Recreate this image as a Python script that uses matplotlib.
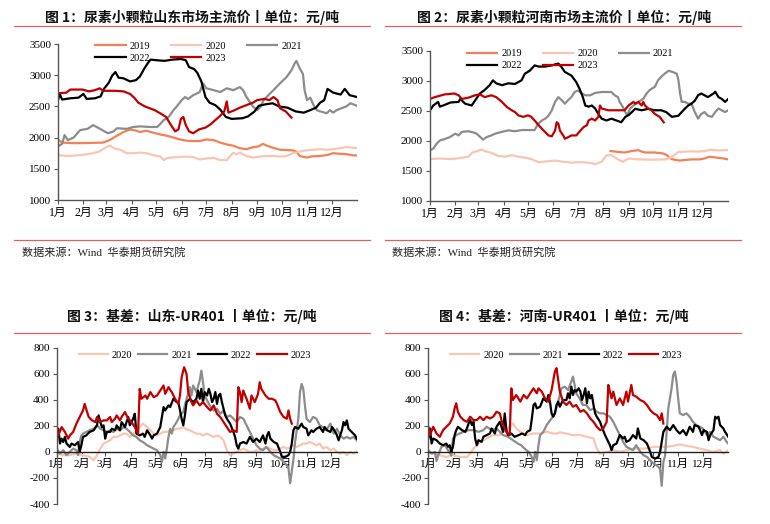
import matplotlib
matplotlib.use("Agg")
import matplotlib.pyplot as plt
from matplotlib.lines import Line2D

SERIF = ['Liberation Serif', 'Noto Sans CJK SC']
CJK = ['Noto Sans CJK SC', 'DejaVu Sans']
plt.rcParams['font.family'] = SERIF
plt.rcParams['axes.unicode_minus'] = False

# ---------------- data (day of year, value) ----------------
month_days = [0, 31, 59, 90, 120, 151, 181, 212, 243, 273, 304, 334]
month_labels = ['1月', '2月', '3月', '4月', '5月', '6月', '7月', '8月', '9月', '10月', '11月', '12月']
price_ticks = [1000, 1500, 2000, 2500, 3000, 3500]
basis_ticks = [-400, -200, 0, 200, 400, 600, 800]

years_price = ['2019', '2020', '2021', '2022', '2023']
years_basis = ['2020', '2021', '2022', '2023']
colors = {'2019': '#F08158', '2020': '#F8C6B2', '2021': '#8C8C8C', '2022': '#000000', '2023': '#C00000'}

# Panel 1: Shandong price
sd_2019 = [(0,1970),(5,1920),(20,1910),(40,1915),(55,1920),(63,1960),(72,2030),(80,2090),(88,2130),(96,2110),
           (100,2090),(108,2110),(116,2080),(125,2050),(133,2030),(141,2000),(149,1970),(157,1950),(165,1945),
           (173,1945),(181,1970),(190,1960),(198,1920),(206,1890),(214,1870),(222,1830),(230,1815),(238,1845),
           (245,1860),(250,1900),(255,1870),(263,1835),(271,1805),(280,1800),(287,1795),(291,1775),(295,1705),
           (300,1690),(304,1680),(310,1700),(320,1705),(328,1720),(336,1750),(344,1740),(352,1735),(360,1715),(365,1715)]
sd_2020 = [(0,1720),(11,1705),(28,1720),(43,1750),(51,1780),(59,1850),(64,1870),(68,1830),(76,1805),(84,1750),
           (92,1750),(100,1760),(108,1750),(116,1720),(125,1695),(129,1640),(133,1670),(141,1685),(149,1690),
           (157,1695),(165,1690),(173,1650),(181,1665),(190,1675),(198,1640),(206,1640),(210,1700),(214,1760),
           (218,1730),(222,1760),(230,1705),(238,1680),(246,1695),(255,1705),(263,1705),(271,1695),(279,1705),
           (287,1750),(295,1775),(303,1795),(312,1805),(320,1815),(328,1805),(336,1815),(344,1830),(352,1850),
           (360,1835),(365,1835)]
sd_2021 = [(0,1860),(5,1900),(8,2040),(12,1960),(19,2000),(27,2120),(36,2140),(43,2200),(50,2150),(61,2070),
           (68,2100),(72,2150),(84,2140),(92,2170),(100,2180),(112,2170),(121,2170),(125,2220),(129,2280),
           (135,2330),(141,2440),(145,2500),(151,2600),(155,2650),(159,2620),(165,2680),(173,2730),(177,2870),
           (181,2790),(190,2760),(198,2730),(206,2790),(214,2760),(222,2810),(226,2760),(230,2650),(234,2575),
           (238,2500),(243,2440),(247,2490),(251,2600),(259,2710),(263,2760),(271,2870),(279,2970),(285,3080),
           (289,3190),(291,3230),(295,3110),(299,3020),(301,2760),(304,2600),(308,2640),(312,2520),(316,2440),
           (320,2420),(328,2390),(332,2440),(336,2400),(340,2440),(344,2460),(352,2500),(357,2550),(361,2530),(365,2510)]
sd_2022 = [(0,2600),(2,2700),(5,2610),(15,2630),(25,2640),(31,2700),(35,2620),(45,2630),(52,2660),(56,2780),
           (62,2880),(66,2990),(70,3050),(74,2960),(80,2950),(88,2900),(95,2920),(100,2980),(105,3100),(110,3200),
           (113,3250),(120,3240),(130,3230),(140,3250),(150,3260),(156,3240),(160,3130),(166,3100),(170,3040),
           (175,2900),(180,2650),(185,2560),(192,2520),(198,2450),(205,2330),(212,2300),(225,2310),(232,2340),
           (240,2420),(245,2510),(252,2530),(262,2550),(270,2500),(280,2480),(290,2420),(300,2400),(308,2440),
           (315,2480),(320,2560),(325,2600),(329,2780),(336,2720),(345,2690),(350,2780),(356,2680),(365,2650)]
sd_2023 = [(0,2710),(10,2720),(15,2770),(30,2770),(38,2740),(45,2760),(51,2790),(55,2750),(70,2750),(80,2740),
           (88,2700),(93,2640),(98,2560),(106,2500),(112,2470),(118,2440),(126,2380),(132,2330),(137,2220),
           (143,2100),(147,2130),(150,2300),(153,2330),(156,2200),(160,2100),(165,2070),(172,2130),(180,2160),
           (186,2210),(192,2280),(198,2350),(203,2420),(206,2580),(208,2400),(214,2430),(222,2480),(230,2520),
           (238,2560),(243,2600),(252,2620),(258,2600),(263,2650),(268,2600),(271,2470),(278,2420),(285,2320)]

# Panel 2: Henan price
hn_2019 = [(221,1830),(230,1815),(238,1805),(247,1830),(255,1845),(259,1820),(263,1805),(275,1805),(285,1790),
           (290,1760),(294,1705),(300,1680),(306,1670),(312,1680),(320,1690),(330,1690),(336,1705),(342,1735),
           (350,1720),(357,1710),(365,1690)]
hn_2020 = [(0,1695),(10,1705),(27,1695),(38,1715),(47,1735),(52,1805),(58,1830),(63,1855),(67,1830),(75,1800),
           (84,1745),(92,1735),(100,1760),(108,1735),(116,1720),(125,1690),(133,1640),(141,1655),(153,1670),
           (163,1650),(173,1635),(182,1645),(190,1640),(198,1625),(202,1610),(210,1650),(216,1760),(222,1760),
           (230,1690),(236,1650),(243,1705),(255,1690),(271,1685),(288,1690),(296,1730),(304,1815),(312,1820),
           (320,1825),(328,1820),(336,1830),(344,1850),(352,1840),(365,1845)]
hn_2021 = [(0,1840),(4,1870),(8,1950),(12,2005),(18,2030),(24,2060),(31,2120),(35,2090),(39,2150),(47,2160),
           (53,2140),(57,2120),(61,2070),(65,2020),(69,2060),(75,2090),(80,2120),(88,2150),(96,2175),(104,2160),
           (112,2180),(120,2180),(128,2180),(132,2280),(137,2340),(141,2370),(145,2420),(149,2510),(153,2650),
           (157,2730),(161,2680),(165,2620),(169,2680),(173,2730),(177,2815),(181,2840),(186,2790),(190,2760),
           (196,2760),(202,2800),(210,2815),(216,2815),(222,2815),(226,2760),(230,2730),(232,2650),(236,2565),
           (239,2480),(241,2425),(245,2540),(249,2590),(255,2650),(261,2700),(265,2790),(269,2850),(275,2900),
           (279,3010),(283,3070),(287,3120),(292,3170),(297,3150),(302,3120),(304,3010),(306,2790),(308,2650),
           (312,2650),(316,2620),(320,2620),(324,2480),(328,2370),(332,2450),(336,2480),(340,2420),(345,2400),
           (349,2480),(353,2540),(357,2510),(361,2480),(365,2510)]
hn_2022 = [(0,2510),(4,2590),(10,2650),(12,2570),(18,2600),(25,2640),(35,2650),(37,2700),(43,2620),(51,2590),
           (55,2670),(61,2790),(67,2850),(73,2930),(77,3010),(81,2960),(88,2930),(96,2960),(104,2950),(112,3010),
           (116,3120),(122,3170),(128,3260),(133,3240),(141,3240),(149,3260),(157,3290),(161,3230),(165,3150),
           (173,3090),(179,2980),(183,2870),(187,2730),(190,2590),(194,2570),(198,2590),(202,2540),(206,2450),
           (210,2370),(216,2340),(222,2370),(228,2340),(234,2310),(239,2400),(243,2430),(247,2480),(251,2535),
           (259,2510),(267,2535),(275,2510),(283,2510),(289,2480),(296,2400),(304,2420),(308,2480),(312,2540),
           (316,2590),(320,2620),(324,2670),(328,2760),(332,2790),(336,2760),(340,2730),(347,2790),(349,2820),
           (353,2730),(357,2700),(361,2650),(365,2700)]
hn_2023 = [(0,2700),(6,2730),(18,2775),(30,2790),(35,2760),(39,2700),(47,2720),(55,2760),(61,2775),(67,2730),
           (75,2760),(81,2730),(88,2650),(94,2565),(100,2510),(104,2480),(108,2425),(114,2400),(120,2425),
           (124,2400),(128,2340),(133,2260),(137,2200),(141,2145),(145,2090),(149,2075),(153,2170),(155,2310),
           (157,2290),(159,2170),(163,2090),(165,2035),(169,2060),(173,2090),(179,2090),(184,2170),(188,2230),
           (192,2260),(194,2340),(198,2370),(202,2340),(206,2400),(208,2590),(210,2540),(218,2510),(230,2510),
           (238,2510),(243,2590),(249,2650),(251,2620),(255,2650),(259,2590),(261,2650),(263,2590),(267,2540),
           (271,2510),(275,2450),(281,2400),(286,2310)]

# Panel 3: basis Shandong - UR401
sdb_2020 = [(0,-13),(8,-25),(16,-25),(24,-13),(32,-25),(40,-38),(45,-64),(49,-25),(53,25),(57,64),(61,76),(65,89),
            (69,115),(73,115),(77,127),(81,140),(85,140),(89,115),(93,140),(97,153),(101,191),(105,217),(110,191),
            (114,166),(118,140),(122,127),(126,140),(130,153),(134,153),(138,166),(142,166),(146,178),(150,178),
            (154,191),(158,173),(162,166),(166,153),(170,140),(174,140),(178,127),(183,140),(187,127),(191,115),
            (195,127),(199,115),(203,89),(207,13),(211,-25),(215,-13),(219,0),(223,13),(227,25),(231,13),(235,0),
            (239,0),(243,13),(247,0),(251,25),(255,38),(260,25),(264,13),(268,13),(272,25),(276,38),(280,25),
            (284,38),(288,51),(292,38),(296,51),(300,64),(304,64),(308,76),(312,64),(316,51),(320,64),(324,25),
            (328,38),(333,13),(337,25),(341,0),(345,-13),(349,0),(353,-25),(357,0),(361,-13),(365,0)]
sdb_2021 = [(0,25),(4,-13),(8,13),(12,-25),(16,0),(20,25),(24,13),(26,-25),(28,76),(30,127),(32,140),(36,153),
            (40,166),(45,178),(49,204),(53,178),(57,166),(61,153),(65,166),(69,153),(73,178),(77,166),(81,191),
            (85,178),(89,153),(93,127),(97,115),(101,89),(105,76),(110,51),(114,38),(118,25),(122,13),(126,-25),
            (128,-76),(130,0),(132,-51),(134,25),(136,115),(138,178),(140,140),(142,191),(146,229),(150,280),
            (154,306),(158,408),(162,497),(164,433),(166,510),(170,459),(174,548),(176,624),(178,535),(180,433),
            (182,408),(186,357),(191,318),(195,331),(199,293),(203,318),(207,268),(211,280),(215,255),(219,229),
            (223,268),(227,255),(231,204),(235,153),(239,102),(243,51),(247,25),(251,13),(255,38),(260,0),(264,-25),
            (268,-38),(272,-51),(276,-76),(280,-102),(282,-127),(284,-240),(286,-150),(288,-60),(290,76),(294,255),
            (296,459),(298,522),(300,484),(302,357),(304,255),(308,229),(312,268),(316,255),(320,204),(324,191),
            (328,166),(333,217),(337,140),(341,178),(345,127),(349,102),(353,115),(357,102),(361,115),(365,89)]
sdb_2022 = [(0,127),(2,178),(4,64),(6,102),(8,76),(10,115),(12,64),(16,38),(18,64),(22,51),(26,76),(28,0),(30,51),
            (32,115),(36,127),(40,153),(45,166),(49,204),(51,280),(53,229),(55,191),(57,204),(59,102),(61,153),
            (65,153),(67,178),(71,166),(73,204),(77,166),(79,229),(83,191),(85,229),(87,268),(89,204),(93,255),
            (95,293),(97,140),(101,127),(105,140),(107,115),(110,166),(114,127),(116,102),(118,127),(122,140),
            (126,191),(128,268),(130,344),(132,318),(136,357),(138,344),(142,408),(146,382),(148,382),(150,318),
            (152,255),(154,204),(156,280),(158,382),(162,408),(166,382),(170,408),(172,471),(174,408),(176,484),
            (178,382),(180,459),(183,433),(185,484),(187,446),(189,382),(191,408),(193,459),(195,369),(197,433),
            (199,446),(201,382),(203,331),(205,280),(207,255),(211,217),(215,153),(217,115),(219,51),(221,25),
            (223,64),(227,76),(231,64),(235,115),(239,76),(243,102),(247,76),(251,127),(254,64),(256,127),(258,153),
            (260,102),(264,76),(268,64),(272,0),(274,-38),(278,-38),(282,-25),(284,0),(286,64),(288,166),(290,191),
            (294,178),(298,217),(300,191),(304,178),(306,127),(310,166),(312,153),(316,178),(320,191),(324,153),
            (326,191),(329,166),(333,153),(335,191),(339,153),(341,127),(343,89),(345,127),(347,166),(349,229),
            (351,204),(353,242),(355,178),(359,153),(361,140),(363,127),(365,102)]
sdb_2023 = [(0,191),(2,127),(6,191),(10,153),(14,102),(16,127),(20,153),(24,217),(28,268),(32,318),(34,369),
            (37,306),(39,268),(43,242),(47,229),(49,268),(53,229),(57,242),(61,242),(65,268),(67,229),(71,255),
            (73,280),(77,242),(79,268),(83,306),(87,255),(91,229),(95,191),(99,140),(101,484),(103,408),(108,433),
            (110,408),(114,459),(118,420),(122,433),(126,471),(130,510),(132,446),(136,497),(140,459),(144,408),
            (148,369),(150,433),(152,573),(155,650),(158,599),(160,459),(164,382),(166,357),(170,395),(174,357),
            (178,382),(183,344),(187,318),(191,357),(195,293),(199,268),(203,229),(207,191),(211,153),(215,166),
            (219,153),(221,497),(223,459),(225,382),(227,471),(231,408),(235,331),(237,433),(241,382),(245,446),
            (247,535),(249,484),(254,433),(258,408),(262,408),(266,395),(268,369),(272,306),(276,268),(280,255),
            (282,318),(284,255),(286,217)]

# Panel 4: basis Henan - UR401
hnb_2020 = [(0,0),(6,-13),(14,-26),(22,-39),(30,-26),(39,-39),(47,-39),(51,-13),(55,26),(59,51),(63,77),(71,103),
            (79,129),(87,129),(91,154),(95,167),(99,193),(103,218),(107,180),(112,154),(120,129),(128,141),
            (136,141),(144,154),(152,141),(156,141),(160,150),(168,141),(176,129),(185,129),(193,116),(201,103),
            (205,26),(209,-13),(217,0),(225,13),(233,0),(241,13),(249,26),(258,26),(266,26),(274,39),(282,39),
            (290,39),(298,46),(306,57),(314,46),(322,39),(330,26),(339,13),(347,0),(355,13),(359,-13),(365,13)]
hnb_2021 = [(0,13),(4,-13),(8,0),(10,-70),(12,-26),(16,39),(20,51),(24,13),(28,-26),(30,103),(34,129),(38,141),
            (43,154),(49,167),(55,167),(61,154),(67,167),(71,193),(77,167),(83,180),(87,154),(91,129),(97,116),
            (103,90),(109,64),(113,51),(117,26),(122,0),(126,-39),(128,-77),(130,0),(132,-64),(134,51),(136,129),
            (140,154),(144,206),(150,257),(154,296),(158,386),(162,488),(166,501),(170,475),(174,540),(176,578),
            (178,514),(180,450),(184,411),(188,360),(192,360),(197,321),(201,334),(205,308),(209,296),(213,296),
            (217,283),(221,270),(225,231),(229,180),(233,129),(237,77),(241,39),(245,26),(249,13),(253,51),(258,0),
            (262,-26),(266,-39),(270,-64),(274,-90),(278,-103),(282,-129),(284,-260),(286,-77),(288,-30),(290,154),
            (292,334),(296,488),(298,591),(300,617),(302,540),(304,411),(306,296),(310,283),(314,296),(318,270),
            (322,231),(326,206),(330,193),(334,180),(339,129),(343,154),(347,116),(351,103),(355,90),(359,116),
            (363,77),(365,64)]
hnb_2022 = [(0,103),(2,180),(4,64),(6,103),(10,90),(14,64),(18,51),(22,64),(24,39),(26,51),(28,0),(30,39),(32,129),
            (34,167),(36,193),(41,167),(45,154),(47,180),(49,218),(51,244),(53,206),(55,231),(57,103),(59,51),
            (61,90),(65,77),(67,116),(71,129),(75,141),(77,180),(81,141),(83,193),(87,231),(89,193),(91,154),
            (93,296),(95,167),(97,129),(101,141),(105,116),(110,129),(114,141),(118,129),(120,154),(124,167),
            (126,257),(128,360),(130,373),(132,334),(136,347),(140,411),(144,386),(146,437),(148,386),(150,296),
            (152,270),(154,296),(156,360),(158,386),(160,347),(164,398),(168,398),(170,450),(172,411),(174,501),
            (176,437),(178,475),(180,463),(183,488),(185,463),(187,398),(189,437),(191,488),(193,373),(195,463),
            (197,411),(199,437),(201,360),(203,296),(205,270),(209,231),(211,193),(215,129),(217,103),(221,51),
            (223,13),(225,51),(229,64),(233,129),(237,103),(239,116),(241,77),(245,90),(249,129),(253,103),
            (255,180),(258,103),(262,90),(266,64),(270,0),(272,-39),(276,-51),(280,-39),(282,0),(284,77),(286,154),
            (290,193),(294,167),(298,206),(302,167),(306,141),(310,167),(314,129),(318,193),(322,154),(324,206),
            (329,193),(333,129),(335,167),(339,154),(341,90),(343,129),(347,167),(349,270),(351,257),(353,270),
            (355,206),(359,180),(361,154),(365,116)]
hnb_2023 = [(0,193),(2,129),(6,193),(10,141),(14,116),(18,167),(22,193),(26,218),(30,270),(32,334),(34,373),
            (36,308),(39,270),(43,244),(47,231),(51,270),(55,244),(59,244),(63,270),(67,244),(71,270),(75,257),
            (79,270),(83,308),(87,296),(89,244),(91,206),(95,154),(99,129),(101,488),(103,398),(107,437),(112,386),
            (116,437),(120,411),(124,450),(128,488),(132,450),(134,488),(138,463),(142,411),(146,386),(150,475),
            (154,617),(156,643),(158,553),(160,463),(164,386),(168,360),(172,386),(176,347),(180,360),(185,308),
            (189,321),(193,296),(197,257),(201,231),(205,193),(209,167),(213,180),(217,231),(219,514),(221,463),
            (223,411),(225,463),(229,360),(233,411),(237,360),(241,463),(243,386),(247,514),(249,437),(253,424),
            (258,398),(262,386),(266,360),(270,321),(274,296),(278,283),(282,244),(284,296),(286,218)]

titles = ['图 1：尿素小颗粒山东市场主流价丨单位：元/吨',
          '图 2：尿素小颗粒河南市场主流价丨单位：元/吨',
          '图 3：基差：山东-UR401 丨单位：元/吨',
          '图 4：基差：河南-UR401 丨单位：元/吨']
source_text = '数据来源：Wind  华泰期货研究院'

# ---------------- figure ----------------
W, H = 770, 524
fig = plt.figure(figsize=(W / 100, H / 100), dpi=100)
fig.patch.set_facecolor('white')


def fx(px):
    return px / W


def fy(py):
    return 1 - py / H


def hline(x0, x1, y, color='#E06060', lw=0.9):
    fig.add_artist(Line2D([fx(x0), fx(x1)], [fy(y), fy(y)], transform=fig.transFigure, color=color, lw=lw))


SPINE = '#555555'


def style_axes(ax):
    for s in ['top', 'right']:
        ax.spines[s].set_visible(False)
    for s in ['left', 'bottom']:
        ax.spines[s].set_color(SPINE)
        ax.spines[s].set_linewidth(1.0)
    ax.tick_params(axis='both', direction='out', length=3, width=0.8, color=SPINE, labelsize=8, pad=2)
    ax.set_xlim(0, 365)
    ax.set_xticks(month_days)
    ax.set_xticklabels(month_labels, fontsize=8.5)
    ax.set_facecolor('white')


def price_panel(rect, series):
    ax = fig.add_axes(rect)
    style_axes(ax)
    handles = {}
    for yr in years_price:
        d, v = zip(*series[yr])
        handles[yr], = ax.plot(d, v, color=colors[yr], lw=1.6, solid_joinstyle='round')
    ax.set_ylim(1000, 3500)
    ax.set_yticks(price_ticks)
    ax.set_yticklabels([str(t) for t in price_ticks], fontsize=8)
    order = ['2019', '2022', '2020', '2023', '2021']
    ax.legend([handles[k] for k in order], order, ncol=3, loc='upper center',
              bbox_to_anchor=(0.47, 1.075), frameon=False, prop={'size': 7.5},
              handlelength=2.9, handletextpad=0.4, columnspacing=2.0, labelspacing=0.25)
    return ax


def basis_panel(rect, series):
    ax = fig.add_axes(rect)
    style_axes(ax)
    ax.spines['bottom'].set_position(('data', 0))
    ax.spines['bottom'].set_color('#222222')
    handles = []
    for yr in years_basis:
        d, v = zip(*series[yr])
        h, = ax.plot(d, v, color=colors[yr], lw=1.6, solid_joinstyle='round')
        handles.append(h)
    ax.set_ylim(-400, 800)
    ax.set_yticks(basis_ticks)
    ax.set_yticklabels([str(t) for t in basis_ticks], fontsize=8)
    ax.legend(handles, years_basis, ncol=4, loc='upper center', bbox_to_anchor=(0.46, 1.04),
              frameon=False, prop={'size': 7.5},
              handlelength=2.8, handletextpad=0.35, columnspacing=0.6)
    return ax


# Panel 1
price_panel([fx(58), fy(200), fx(357) - fx(58), fy(44) - fy(200)],
            {'2019': sd_2019, '2020': sd_2020, '2021': sd_2021, '2022': sd_2022, '2023': sd_2023})
# Panel 2
price_panel([fx(430), fy(200.7), fx(728.3) - fx(430), fy(51) - fy(200.7)],
            {'2019': hn_2019, '2020': hn_2020, '2021': hn_2021, '2022': hn_2022, '2023': hn_2023})
# Panel 3
basis_panel([fx(56.7), fy(504), fx(356.7) - fx(56.7), fy(347.7) - fy(504)],
            {'2020': sdb_2020, '2021': sdb_2021, '2022': sdb_2022, '2023': sdb_2023})
# Panel 4
basis_panel([fx(428.3), fy(504), fx(728.3) - fx(428.3), fy(347.7) - fy(504)],
            {'2020': hnb_2020, '2021': hnb_2021, '2022': hnb_2022, '2023': hnb_2023})

# titles and decorative rules
title_kw = dict(ha='center', va='center', fontsize=10, fontweight='bold', family=CJK, color='#111111')
fig.text(fx(192), fy(17), titles[0], **title_kw)
fig.text(fx(564), fy(17), titles[1], **title_kw)
fig.text(fx(192), fy(316.5), titles[2], **title_kw)
fig.text(fx(563.5), fy(316.5), titles[3], **title_kw)

hline(14, 370, 25.5)
hline(385, 741, 25.5)
hline(14, 370, 333.3)
hline(385, 741, 333.3)
hline(14, 370, 240)
hline(385, 741, 240)

src_kw = dict(ha='left', va='center', fontsize=8, color='#222222')
fig.text(fx(22), fy(252.5), source_text, **src_kw)
fig.text(fx(392), fy(252.5), source_text, **src_kw)

fig.savefig('out.png', dpi=100, facecolor='white')
